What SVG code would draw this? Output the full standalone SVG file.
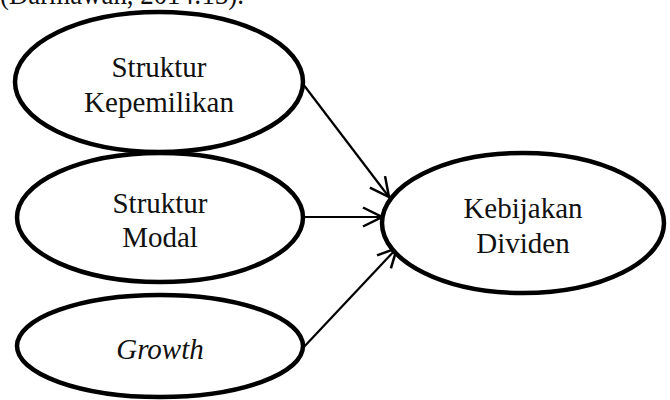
<svg xmlns="http://www.w3.org/2000/svg" width="670" height="400" viewBox="0 0 670 400">
<style>
.node ellipse{fill:#fff;stroke:#000;stroke-width:4.5}
text{font-family:"Liberation Serif","Times New Roman",serif;font-size:29px;fill:#111;text-anchor:middle}
.conn line{stroke:#000;stroke-width:2.2;marker-end:url(#arr)}
</style>
<defs>
<marker id="arr" markerUnits="userSpaceOnUse" viewBox="0 0 22 22" markerWidth="22" markerHeight="22" refX="20" refY="11" orient="auto">
<path d="M1,1.5 L20,11 L1,20.5" fill="none" stroke="#000" stroke-width="2.5"/>
</marker>
</defs>
<text x="0" y="4" style="text-anchor:start" textLength="244" lengthAdjust="spacingAndGlyphs">(Darmawan, 2014:13).</text>
<g class="conn">
<line x1="303" y1="84" x2="389" y2="197"/>
<line x1="304" y1="217" x2="382" y2="217"/>
<line x1="302" y1="349" x2="397" y2="248"/>
</g>
<g id="n1" class="node"><ellipse cx="159" cy="82" rx="144" ry="70"/><text x="159" y="77">Struktur</text><text x="159" y="112">Kepemilikan</text></g>
<g id="n2" class="node"><ellipse cx="160" cy="217.5" rx="143" ry="64.5"/><text x="160" y="213">Struktur</text><text x="160" y="247">Modal</text></g>
<g id="n3" class="node"><ellipse cx="160" cy="346" rx="143" ry="51"/><text x="160" y="359" font-style="italic">Growth</text></g>
<g id="n4" class="node"><ellipse cx="523" cy="223" rx="141" ry="70"/><text x="523" y="218">Kebijakan</text><text x="523" y="253">Dividen</text></g>
</svg>
